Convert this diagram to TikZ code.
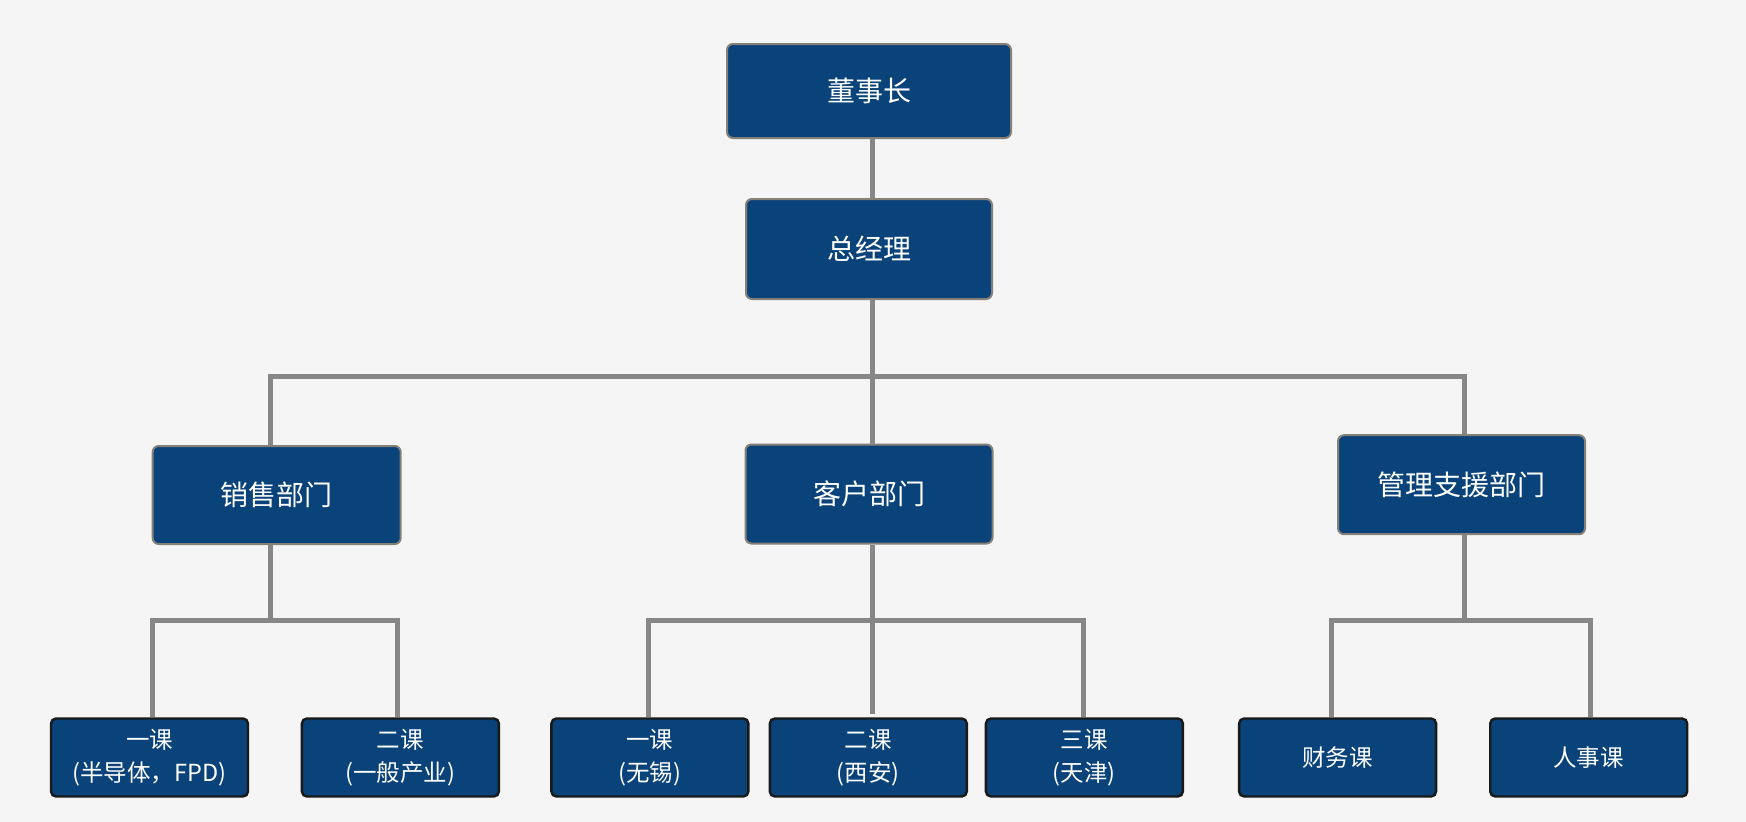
\documentclass[tikz,border=0pt]{standalone}
\usepackage{fontspec}
\newfontfamily\cjk{Noto Sans CJK SC}
\definecolor{bg}{HTML}{F5F5F5}
\definecolor{boxblue}{HTML}{0A427A}
\definecolor{midborder}{HTML}{858078}
\definecolor{conncol}{HTML}{878787}
\tikzset{
  midbox/.style={draw=midborder, line width=2pt, fill=boxblue, rounded corners=6pt,
    text=white, font=\cjk\fontsize{28}{33}\selectfont, inner sep=0pt, align=center},
  lowbox/.style={draw=black!90, line width=2.4pt, fill=boxblue, rounded corners=5pt,
    text=white, font=\cjk\fontsize{23.5}{33}\selectfont, inner sep=0pt, align=center,
    minimum width=197pt, minimum height=78pt},
  conn/.style={draw=conncol, line width=5pt, line join=miter}
}
\begin{document}
\begin{tikzpicture}[x=1pt,y=-1pt]
\fill[bg] (0,0) rectangle (1746,822);
\useasboundingbox (0,0) rectangle (1746,822);

% top levels
\node[midbox, minimum width=284pt, minimum height=94pt] (chair) at (869,91) {董事长};
\node[midbox, minimum width=246pt, minimum height=100pt] (gm) at (869,249) {总经理};

% departments
\node[midbox, minimum width=248pt, minimum height=98pt] (sales) at (276.7,495) {销售部门};
\node[midbox, minimum width=247pt, minimum height=99pt] (cust) at (869,494) {客户部门};
\node[midbox, minimum width=247pt, minimum height=99pt] (mgmt) at (1461.5,484.7) {管理支援部门};

% sections
\node[lowbox] (b1) at (149.5,757.5) {一课\\(半导体，FPD)};
\node[lowbox] (b2) at (400.4,757.5) {二课\\(一般产业)};
\node[lowbox] (c1) at (649.9,757.5) {一课\\(无锡)};
\node[lowbox] (c2) at (868.3,757.5) {二课\\(西安)};
\node[lowbox] (c3) at (1084.4,757.5) {三课\\(天津)};
\node[lowbox] (m1) at (1337.6,757.5) {财务课};
\node[lowbox] (m2) at (1588.7,757.5) {人事课};

% bus coordinates
\coordinate (busA) at (872,376);
\coordinate (sS) at (270,620);
\coordinate (cS) at (872,620);
\coordinate (mS) at (1464,620);

% connectors
\draw[conn] ([xshift=3pt]chair.south) -- ([xshift=3pt]gm.north);
\draw[conn] ([xshift=3pt]gm.south) -- ([xshift=3pt]cust.north);
\draw[conn] ([xshift=-6.7pt]sales.north) |- (busA) -| ([xshift=2.5pt]mgmt.north);

\draw[conn] ([xshift=-6.7pt]sales.south) -- (sS);
\draw[conn] ([xshift=2.5pt]b1.north) |- (sS) -| ([xshift=-2.7pt]b2.north);

\draw[conn] ([xshift=3pt]cust.south) -- ([xshift=3.7pt,yshift=3pt]c2.north);
\draw[conn] ([xshift=-1.3pt]c1.north) |- (cS) -| ([xshift=-1.4pt]c3.north);

\draw[conn] ([xshift=2.5pt]mgmt.south) -- (mS);
\draw[conn] ([xshift=-6pt]m1.north) |- (mS) -| ([xshift=2pt]m2.north);
\end{tikzpicture}
\end{document}
